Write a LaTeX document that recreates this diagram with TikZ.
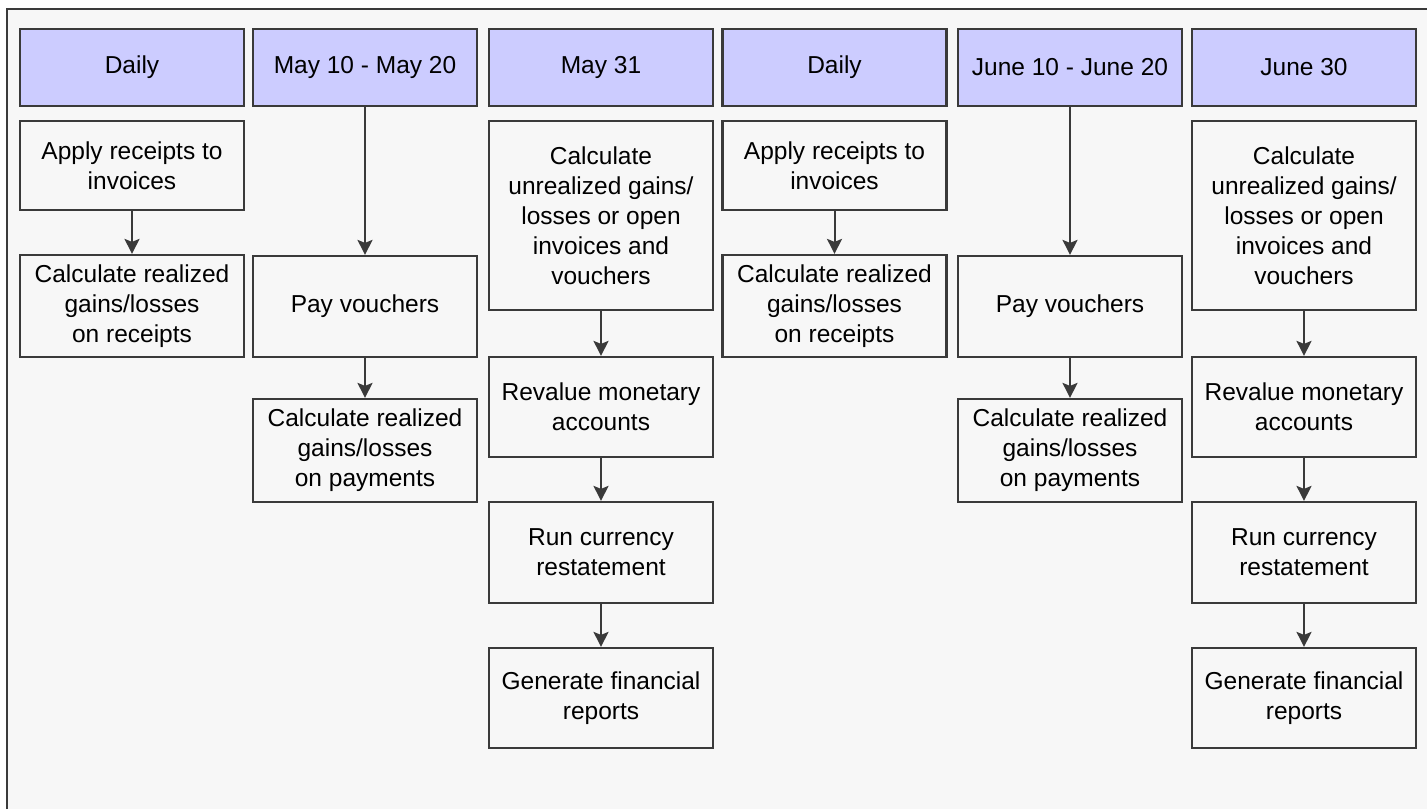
\documentclass[tikz,border=0pt]{standalone}
\usepackage{fontspec}
\setmainfont{Liberation Sans}
\usetikzlibrary{arrows.meta}
\definecolor{bgc}{HTML}{F7F7F7}
\definecolor{hdr}{HTML}{CCCCFF}
\definecolor{ln}{HTML}{3A3A3A}
\tikzset{
  box/.style={draw=ln, line width=2.2pt, fill=bgc, minimum width=224pt, inner sep=0pt, align=center,
    font=\fontsize{24.5pt}{30pt}\selectfont, text=black},
  hbox/.style={box, fill=hdr},
  conn/.style={draw=ln, line width=2pt, -{Stealth[width=15pt,length=15pt,inset=3pt]}}
}
\begin{document}
\begin{tikzpicture}[x=1pt,y=-1pt]
\useasboundingbox (0,0) rectangle (1427,809);
\fill[bgc] (7,9) rectangle (1427,809);
\draw[ln, line width=2.2pt] (7,809) -- (7,9) -- (1427,9);
% columns
\def\ca{132}\def\cb{365}\def\cc{601}\def\cd{834.5}\def\ce{1070}\def\cf{1304}
% headers
\node[hbox, minimum height=77pt] (h1) at (\ca,67.5) {Daily};
\node[hbox, minimum height=77pt] (h2) at (\cb,67.5) {May 10 - May 20};
\node[hbox, minimum height=77pt] (h3) at (\cc,67.5) {May 31};
\node[hbox, minimum height=77pt] (h4) at (\cd,67.5) {Daily};
\node[hbox, minimum height=77pt] (h5) at (\ce,67.5) {June 10 - June 20};
\node[hbox, minimum height=77pt] (h6) at (\cf,67.5) {June 30};
% column 1
\node[box, minimum height=89pt] (a1) at (\ca,165.5) {Apply receipts to\\invoices};
\node[box, minimum height=102pt] (r1) at (\ca,306) {Calculate realized\\gains/losses\\on receipts};
% column 2
\node[box, minimum height=101pt] (p2) at (\cb,306.5) {Pay vouchers};
\node[box, minimum height=103pt] (q2) at (\cb,450.5) {Calculate realized\\gains/losses\\on payments};
% column 3
\node[box, minimum height=189pt] (u3) at (\cc,215.5) {Calculate\\unrealized gains/\\losses or open\\invoices and\\vouchers};
\node[box, minimum height=100pt] (v3) at (\cc,407) {Revalue monetary\\accounts};
\node[box, minimum height=101pt] (s3) at (\cc,552.5) {Run currency\\restatement};
\node[box, minimum height=100pt] (g3) at (\cc,698) {Generate financial\\reports};
% column 4
\node[box, minimum height=89pt] (a4) at (\cd,165.5) {Apply receipts to\\invoices};
\node[box, minimum height=102pt] (r4) at (\cd,306) {Calculate realized\\gains/losses\\on receipts};
% column 5
\node[box, minimum height=101pt] (p5) at (\ce,306.5) {Pay vouchers};
\node[box, minimum height=103pt] (q5) at (\ce,450.5) {Calculate realized\\gains/losses\\on payments};
% column 6
\node[box, minimum height=189pt] (u6) at (\cf,215.5) {Calculate\\unrealized gains/\\losses or open\\invoices and\\vouchers};
\node[box, minimum height=100pt] (v6) at (\cf,407) {Revalue monetary\\accounts};
\node[box, minimum height=101pt] (s6) at (\cf,552.5) {Run currency\\restatement};
\node[box, minimum height=100pt] (g6) at (\cf,698) {Generate financial\\reports};
% connectors
\draw[conn] (a1) -- (r1);
\draw[conn] (h2) -- (p2);
\draw[conn] (p2) -- (q2);
\draw[conn] (u3) -- (v3);
\draw[conn] (v3) -- (s3);
\draw[conn] (s3) -- (g3);
\draw[conn] (a4) -- (r4);
\draw[conn] (h5) -- (p5);
\draw[conn] (p5) -- (q5);
\draw[conn] (u6) -- (v6);
\draw[conn] (v6) -- (s6);
\draw[conn] (s6) -- (g6);
\end{tikzpicture}
\end{document}
